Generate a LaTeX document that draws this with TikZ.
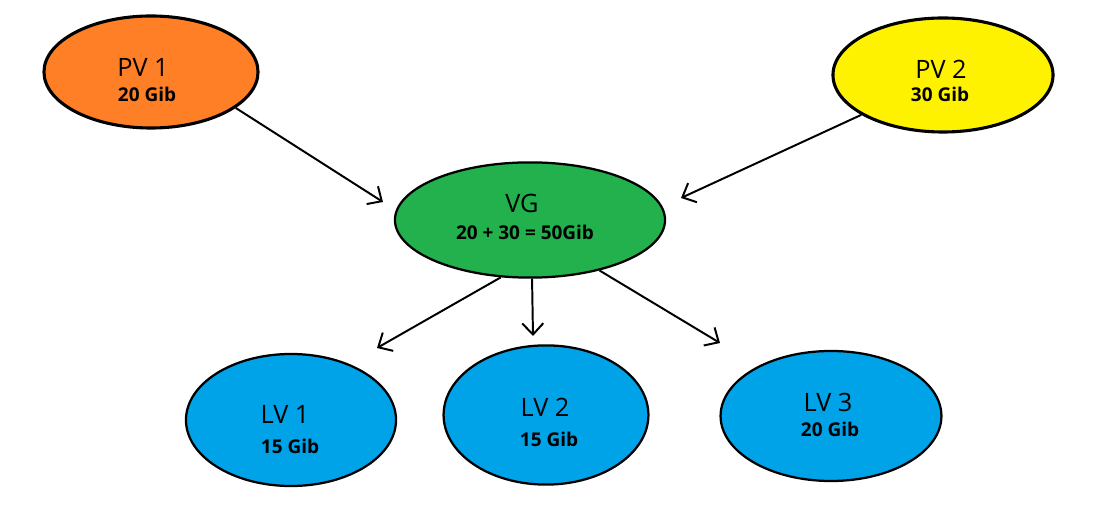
\documentclass[tikz,border=0pt]{standalone}
\usepackage{fontspec}
\setmainfont{Open Sans}
\usepackage{tikz}
\usetikzlibrary{shapes.geometric, arrows.meta}

\definecolor{pvorange}{HTML}{FF7F27}
\definecolor{pvyellow}{HTML}{FFF200}
\definecolor{vggreen}{HTML}{22B14C}
\definecolor{lvblue}{HTML}{00A2E8}

\begin{document}
\begin{tikzpicture}[x=0.025cm, y=-0.025cm, >={Straight Barb[length=8pt, width=15pt]},
    vol/.style={ellipse, draw=black, line width=1.6pt, inner sep=0pt},
    title/.style={anchor=base, inner sep=0pt, font=\fontsize{18}{20}\selectfont},
    size/.style={anchor=base, inner sep=0pt, font=\fontsize{13.5}{16}\selectfont\bfseries},
    arr/.style={->, line width=1.4pt}]
            \useasboundingbox (0,0) rectangle (1100,510);

            % physical volumes
            \node[vol, line width=2.2pt, fill=pvorange, minimum width=5.35cm, minimum height=2.8cm] (pv1) at (151,72) {};
            \node[vol, line width=2.2pt, fill=pvyellow, minimum width=5.5cm, minimum height=2.85cm] (pv2) at (943,75) {};

            % volume group
            \node[vol, fill=vggreen, minimum width=6.75cm, minimum height=2.88cm] (vg) at (530,220) {};

            % logical volumes
            \node[vol, fill=lvblue, minimum width=5.25cm, minimum height=3.3cm] (lv1) at (291,420) {};
            \node[vol, fill=lvblue, minimum width=5.12cm, minimum height=3.48cm] (lv2) at (546,415) {};
            \node[vol, fill=lvblue, minimum width=5.52cm, minimum height=3.25cm] (lv3) at (831,416) {};

            \node[title] (pv1 name) at (143,77) {PV 1};
            \node[size] (pv1 size) at (147,102) {20 Gib};
            \node[title] (pv2 name) at (941,79) {PV 2};
            \node[size] (pv2 size) at (940,102) {30 Gib};
            \node[title] (vg name) at (522,213) {VG};
            \node[size] (vg size) at (525,240) {20 + 30 = 50Gib};
            \node[title] (lv1 name) at (285,424) {LV 1};
            \node[size] (lv1 size) at (290,454) {15 Gib};
            \node[title] (lv2 name) at (545,417) {LV 2};
            \node[size] (lv2 size) at (549,447) {15 Gib};
            \node[title] (lv3 name) at (828,412) {LV 3};
            \node[size] (lv3 size) at (830,437) {20 Gib};

            % free arrow ends
            \coordinate (in1) at (383,202);
            \coordinate (in2) at (681,198);
            \coordinate (out1) at (377,348);
            \coordinate (out2) at (533,336);
            \coordinate (out3) at (720,343);

            \draw[arr] (pv1.-23) -- (in1);
            \draw[arr] (pv2.-154) -- (in2);
            \draw[arr] (vg.-117) -- (out1);
            \draw[arr] (vg.-88) -- (out2);
            \draw[arr] (vg.-36) -- (out3);
        \end{tikzpicture}
\end{document}
